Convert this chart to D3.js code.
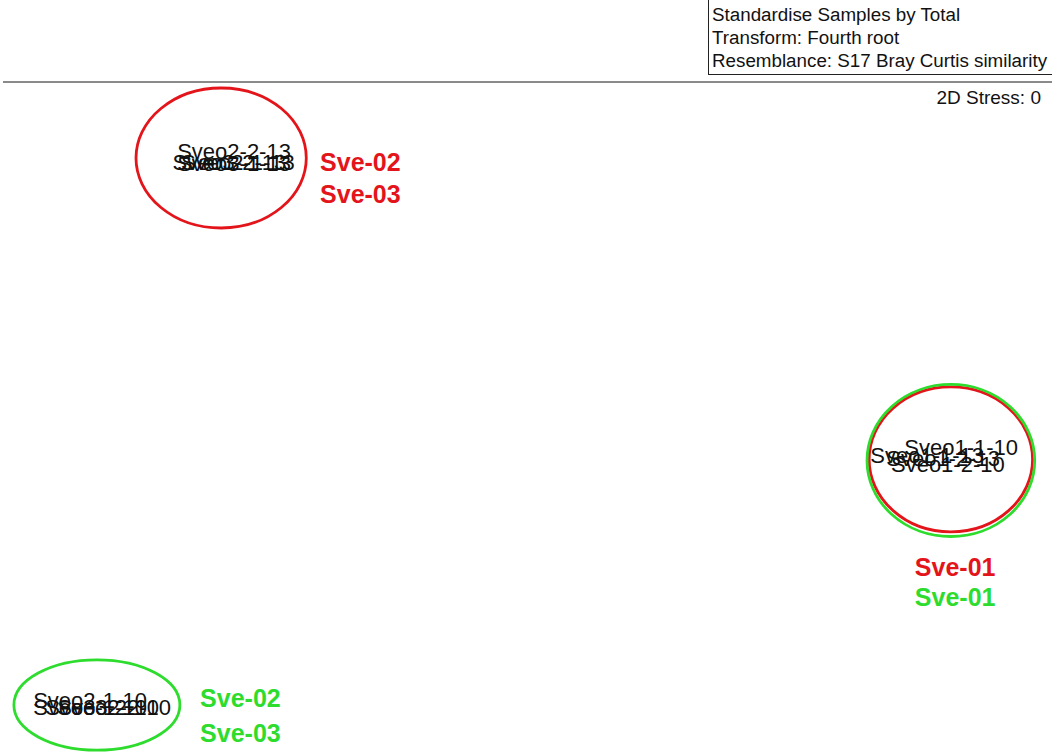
<!DOCTYPE html>
<html>
<head>
<meta charset="utf-8">
<script src="https://cdn.jsdelivr.net/npm/d3@7"></script>
<style>
  body { margin: 0; background: #fff; }
  svg { display: block; font-family: Arial, "Liberation Sans", sans-serif; }
</style>
</head>
<body>
<svg width="1052" height="756"></svg>
<script>
// sample labels and their nMDS coordinates
var sampleNames = ["Sveo2-2-13", "Sveo3-2-13", "Sveo3-1-13", "Sveo2-1-13",
    "Sveo1-1-10", "Sveo1-1-13", "Sveo1-2-13", "Sveo1-2-10",
    "Sveo2-1-10", "Sveo3-1-10", "Sveo3-2-10", "Sveo2-2-10"];
var sampleX = [-0.665, -0.676, -0.665, -0.656,
    1.026, 0.947, 0.984, 0.995,
    -1.0, -1.0, -0.972, -0.944];
var sampleY = [1.026, 0.985, 0.982, 0.985,
    -0.057, -0.086, -0.097, -0.119,
    -0.982, -1.007, -1.007, -1.007];

// similarity overlays (ellipses): colour, centre and radii in MDS units
var ellipseColor = ["red", "red", "green", "green"];
var ellipseCX = [-0.695, 1.002, 1.002, -0.984];
var ellipseCY = [1.0, -0.102, -0.106, -1.0];
var ellipseRX = [0.198, 0.19, 0.195, 0.193];
var ellipseRY = [0.256, 0.265, 0.278, 0.165];

// overlay group labels
var groupText = ["Sve-02", "Sve-03", "Sve-01", "Sve-01", "Sve-02", "Sve-03"];
var groupColor = ["red", "red", "red", "green", "green", "green"];
var groupX = [-0.465, -0.465, 1.012, 1.012, -0.744, -0.744];
var groupY = [0.985, 0.868, -0.495, -0.605, -0.975, -1.102];
var groupAnchor = ["start", "start", "middle", "middle", "start", "start"];

var infoLines = ["Standardise Samples by Total", "Transform: Fourth root",
    "Resemblance: S17 Bray Curtis similarity"];
var stressText = "2D Stress: 0";

var colors = { red: "#e3151b", green: "#2edc2e" };

var svg = d3.select("svg");

var x = d3.scaleLinear().domain([-1, 1]).range([90, 950]),
    y = d3.scaleLinear().domain([-1, 1]).range([705, 158]);

// info box top right
svg.append("rect")
    .attr("x", 708.5)
    .attr("y", -1)
    .attr("width", 360)
    .attr("height", 75.5)
    .attr("fill", "none")
    .attr("stroke", "#222")
    .attr("stroke-width", 1);

svg.selectAll(".info")
    .data(infoLines)
    .enter().append("text")
    .attr("class", "info")
    .attr("x", 712)
    .attr("y", function (d, i) { return 21 + i * 23; })
    .attr("font-size", "18.8px")
    .attr("fill", "#111")
    .text(function (d) { return d; });

// separator line
svg.append("line")
    .attr("x1", 3).attr("x2", 1052)
    .attr("y1", 82).attr("y2", 82)
    .attr("stroke", "#8a8a8a")
    .attr("stroke-width", 2);

svg.append("text")
    .attr("x", 1041)
    .attr("y", 104)
    .attr("text-anchor", "end")
    .attr("font-size", "19px")
    .attr("fill", "#111")
    .text(stressText);

// ellipses
var ellipses = ellipseColor.map(function (c, i) {
    return [c, ellipseCX[i], ellipseCY[i], ellipseRX[i], ellipseRY[i]];
});

svg.selectAll(".ring")
    .data(ellipses)
    .enter().append("ellipse")
    .attr("class", "ring")
    .attr("cx", function (d) { return x(d[1]); })
    .attr("cy", function (d) { return y(d[2]); })
    .attr("rx", function (d) { return x(d[1] + d[3]) - x(d[1]); })
    .attr("ry", function (d) { return y(d[2]) - y(d[2] + d[4]); })
    .attr("fill", "none")
    .attr("stroke", function (d) { return colors[d[0]]; })
    .attr("stroke-width", 2.8);

// sample labels
var samples = sampleNames.map(function (n, i) { return [n, sampleX[i], sampleY[i]]; });

svg.selectAll(".sample")
    .data(samples)
    .enter().append("text")
    .attr("class", "sample")
    .attr("x", function (d) { return x(d[1]); })
    .attr("y", function (d) { return y(d[2]); })
    .attr("dy", "0.35em")
    .attr("text-anchor", "middle")
    .attr("font-size", "22px")
    .attr("fill", "#111")
    .text(function (d) { return d[0]; });

// group labels
var groups = groupText.map(function (t, i) {
    return [t, groupColor[i], groupX[i], groupY[i], groupAnchor[i]];
});

svg.selectAll(".group")
    .data(groups)
    .enter().append("text")
    .attr("class", "group")
    .attr("x", function (d) { return x(d[2]); })
    .attr("y", function (d) { return y(d[3]); })
    .attr("dy", "0.35em")
    .attr("text-anchor", function (d) { return d[4]; })
    .attr("font-size", "25px")
    .attr("font-weight", "bold")
    .attr("fill", function (d) { return colors[d[1]]; })
    .text(function (d) { return d[0]; });
</script>
</body>
</html>
